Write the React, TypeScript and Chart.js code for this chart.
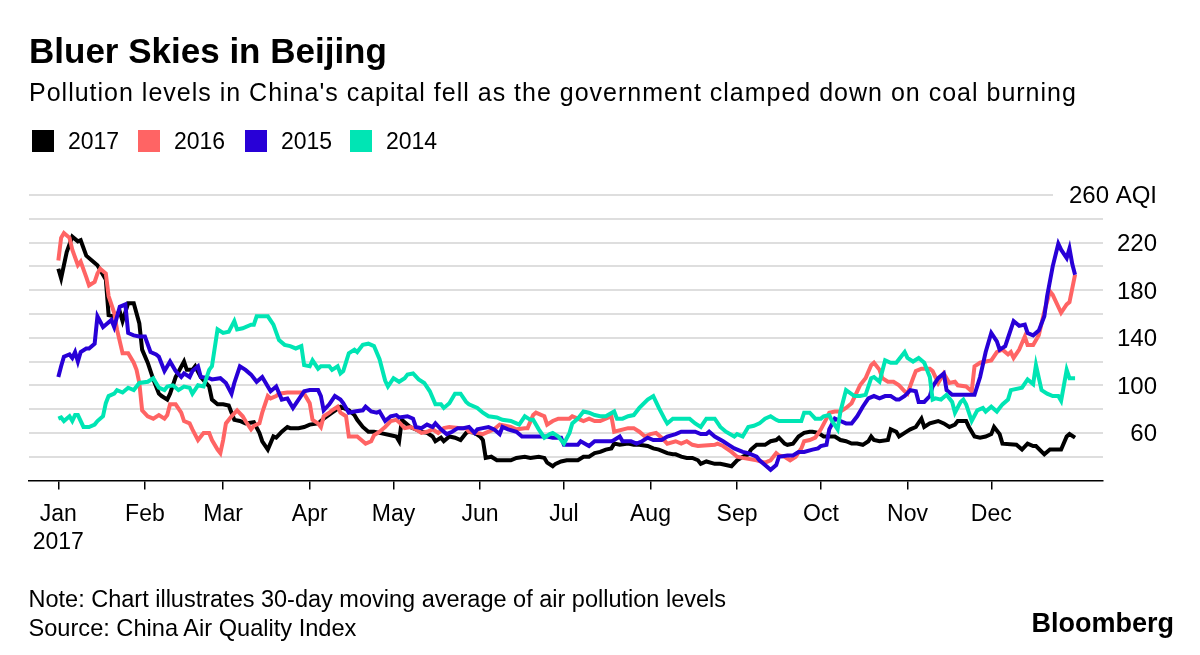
import React, { useEffect, useRef } from "react";
import { Chart, registerables } from "chart.js";

Chart.register(...registerables);

// ---------- data (day of year, AQI 30-day moving average) ----------
const s2017: [number, number][] = [
  [0,198],[1,190],[3,212],[5,225],[7,221],[8,222],[10,209],[12,205],[14,201],[15,197],[17,189],[18,159],[20,158],[22,162],[23,154],[25,169],[27,169],[29,152],[30,130],[32,119],[34,105],[36,93],[37,91],[39,88],[40,93],[42,107],[45,120],[46,113],[48,113],[49,116],[51,107],[54,99],[55,88],[57,84],[59,84],[61,83],[63,71],[65,70],[67,68],[70,69],[72,60],[73,53],[75,46],[77,57],[78,56],[80,61],[82,65],[83,64],[86,64],[88,65],[90,67],[93,68],[95,72],[98,77],[101,82],[104,79],[106,75],[107,71],[109,65],[111,61],[113,61],[115,60],[119,58],[121,57],[122,53],[123,71],[124,69],[126,65],[128,63],[130,61],[132,60],[134,57],[135,53],[137,56],[138,53],[140,57],[142,56],[144,54],[146,60],[147,61],[149,60],[151,57],[152,54],[153,39],[155,40],[157,37],[162,37],[164,39],[167,40],[169,39],[172,40],[174,39],[175,35],[177,32],[178,34],[180,36],[182,37],[186,37],[188,40],[190,40],[192,43],[194,44],[196,46],[198,47],[199,51],[201,50],[204,51],[206,50],[208,50],[211,49],[213,47],[215,46],[218,43],[220,42],[221,42],[223,40],[225,39],[227,39],[229,37],[230,34],[232,36],[235,34],[237,34],[239,33],[241,32],[243,37],[245,40],[247,42],[248,46],[250,50],[253,50],[255,53],[257,54],[258,56],[260,51],[261,50],[263,51],[265,57],[267,60],[269,61],[270,61],[272,60],[274,57],[278,57],[280,54],[282,53],[284,51],[286,51],[288,50],[290,53],[291,57],[292,54],[294,53],[297,54],[298,63],[300,61],[301,57],[303,60],[305,63],[307,65],[309,72],[310,65],[312,68],[315,70],[317,68],[319,65],[321,67],[322,70],[325,70],[326,65],[328,57],[330,56],[332,57],[334,59],[335,65],[337,59],[338,51],[343,50],[345,46],[347,51],[349,49],[350,49],[353,42],[355,46],[359,46],[361,57],[362,59],[364,56]
];

const s2016: [number, number][] = [
  [0,205],[1,224],[2,228],[4,224],[5,214],[7,201],[8,204],[10,191],[11,184],[13,187],[14,194],[15,198],[17,194],[18,175],[20,161],[21,147],[23,127],[25,127],[27,119],[28,113],[29,102],[30,79],[32,74],[34,72],[36,75],[38,72],[39,75],[40,84],[42,84],[44,77],[45,70],[47,68],[48,63],[50,54],[52,60],[54,60],[55,54],[57,46],[58,43],[59,54],[60,68],[62,74],[64,79],[66,74],[67,70],[69,63],[70,66],[72,68],[73,77],[75,91],[76,89],[78,91],[79,93],[82,94],[87,94],[88,93],[90,85],[91,71],[93,68],[94,65],[95,74],[97,77],[98,79],[100,82],[101,77],[103,74],[104,57],[107,57],[109,53],[110,51],[112,53],[113,58],[115,61],[117,65],[119,70],[121,71],[122,69],[124,64],[126,65],[128,63],[130,60],[132,61],[134,63],[136,60],[138,64],[140,65],[144,64],[146,64],[147,61],[150,60],[152,59],[153,60],[156,63],[158,67],[160,66],[162,65],[164,63],[167,64],[168,64],[170,75],[171,77],[173,75],[174,74],[175,67],[177,70],[179,72],[183,72],[184,74],[186,72],[188,70],[190,72],[192,70],[194,70],[196,72],[198,74],[199,61],[204,64],[206,64],[208,61],[210,57],[212,59],[214,60],[216,56],[218,51],[221,53],[223,51],[225,53],[227,50],[229,49],[235,50],[236,51],[238,49],[241,44],[243,40],[245,39],[250,37],[253,35],[255,37],[257,43],[258,41],[260,40],[262,37],[264,40],[266,47],[267,53],[269,54],[271,56],[273,63],[275,72],[276,77],[278,78],[280,78],[282,81],[284,85],[286,95],[287,100],[289,106],[291,117],[292,119],[294,113],[295,106],[297,103],[299,103],[301,100],[303,95],[304,93],[306,106],[307,112],[309,114],[312,114],[313,112],[315,102],[317,110],[319,102],[321,103],[322,100],[325,99],[327,95],[328,116],[330,119],[332,120],[334,121],[336,128],[338,130],[340,126],[341,128],[342,123],[344,130],[346,141],[347,134],[349,134],[351,142],[353,162],[355,179],[356,176],[359,161],[361,168],[362,170],[364,193]
];

const s2015: [number, number][] = [
  [0,107],[1,116],[2,124],[4,126],[5,123],[6,128],[7,120],[8,128],[10,131],[11,131],[13,135],[14,158],[16,149],[17,151],[19,155],[20,149],[22,166],[24,168],[25,144],[27,142],[29,141],[31,141],[33,128],[35,126],[36,124],[38,112],[40,120],[42,112],[44,107],[45,110],[47,107],[48,112],[50,116],[51,107],[54,106],[55,105],[58,106],[60,102],[62,93],[63,102],[65,116],[67,113],[69,109],[71,103],[73,107],[75,99],[76,95],[78,99],[80,88],[82,89],[84,81],[86,88],[88,95],[90,96],[93,96],[94,91],[95,79],[97,84],[99,91],[101,88],[102,85],[104,77],[106,78],[109,79],[110,82],[112,78],[114,77],[115,78],[117,70],[119,74],[121,75],[122,73],[125,74],[127,72],[128,65],[130,64],[132,67],[134,65],[135,68],[137,63],[139,59],[141,61],[143,64],[145,64],[147,65],[149,60],[150,63],[152,64],[154,65],[156,63],[158,59],[159,65],[161,63],[164,61],[166,57],[175,57],[177,56],[180,56],[181,50],[186,50],[187,53],[190,49],[192,53],[198,53],[199,54],[201,57],[202,53],[205,53],[207,51],[209,53],[211,56],[213,54],[216,54],[218,57],[221,59],[223,61],[228,61],[230,59],[232,59],[233,61],[235,57],[238,53],[240,50],[242,47],[245,44],[247,43],[250,40],[251,37],[253,33],[255,29],[257,33],[258,40],[261,41],[263,41],[265,44],[267,44],[270,46],[272,47],[273,49],[275,50],[276,63],[278,72],[280,70],[282,68],[284,68],[286,74],[288,82],[290,89],[292,91],[294,89],[296,91],[298,91],[300,88],[301,88],[303,91],[305,96],[307,95],[308,86],[310,86],[312,91],[313,99],[315,106],[317,110],[318,96],[320,92],[328,92],[330,107],[332,128],[334,144],[336,137],[337,130],[339,133],[340,140],[342,154],[344,150],[346,151],[347,144],[349,142],[351,146],[353,158],[354,175],[356,200],[358,219],[359,214],[361,207],[362,215],[363,202],[364,193]
];

const s2014: [number, number][] = [
  [0,72],[1,73],[2,70],[4,74],[5,70],[6,75],[7,75],[9,65],[11,65],[13,67],[14,70],[16,74],[17,85],[18,91],[20,93],[21,96],[23,94],[25,98],[27,96],[29,102],[32,103],[34,106],[36,98],[38,96],[39,99],[41,100],[43,96],[45,99],[47,98],[48,93],[50,100],[52,99],[54,113],[55,116],[57,147],[59,144],[61,145],[63,154],[64,147],[66,148],[69,151],[70,151],[71,158],[73,158],[75,158],[77,151],[79,138],[81,134],[83,133],[85,131],[87,133],[88,117],[90,116],[91,121],[93,114],[94,116],[97,116],[98,113],[100,116],[101,110],[102,112],[104,127],[106,130],[107,128],[109,134],[111,135],[113,133],[115,122],[117,104],[118,99],[120,106],[122,103],[124,106],[125,109],[127,110],[129,105],[131,102],[133,95],[135,84],[137,84],[138,81],[140,85],[142,93],[144,93],[146,86],[147,84],[150,81],[152,77],[154,74],[157,73],[159,71],[162,70],[164,68],[165,67],[167,74],[169,71],[170,71],[172,63],[174,56],[176,59],[177,60],[179,57],[181,51],[183,60],[184,68],[186,72],[188,78],[190,77],[192,75],[194,74],[196,74],[199,78],[200,72],[202,72],[204,74],[206,75],[208,81],[211,88],[213,91],[215,81],[217,72],[218,68],[220,72],[226,72],[228,68],[230,65],[232,72],[235,72],[237,65],[239,61],[242,57],[243,59],[245,57],[247,65],[249,66],[251,68],[253,72],[255,74],[257,71],[258,70],[266,70],[267,77],[269,77],[271,72],[273,72],[274,74],[276,75],[277,70],[279,63],[280,78],[282,96],[285,91],[287,91],[289,92],[291,106],[292,107],[294,103],[296,121],[298,119],[300,119],[303,128],[304,123],[306,120],[308,123],[310,119],[312,107],[313,88],[314,89],[316,88],[318,92],[320,86],[321,77],[323,86],[324,88],[325,84],[327,70],[329,79],[331,81],[332,78],[334,82],[336,78],[338,84],[340,88],[341,96],[345,98],[347,105],[349,101],[350,117],[352,96],[354,93],[356,91],[358,91],[359,87],[361,113],[362,106],[364,106]
];

const seriesNames = ["2017", "2016", "2015", "2014"];
const seriesColors = ["#000000", "#ff6464", "#2800d7", "#00e5b4"];

const monthStarts = [0, 31, 59, 90, 120, 151, 181, 212, 243, 273, 304, 334];
const monthLabels = ["Jan", "Feb", "Mar", "Apr", "May", "Jun", "Jul", "Aug", "Sep", "Oct", "Nov", "Dec"];
const yearLabel = "2017";

const yTickValues = [60, 100, 140, 180, 220, 260];
const yTickLabels = ["60", "100", "140", "180", "220", "260 AQI"];

const titleText = "Bluer Skies in Beijing";
const subtitleText = "Pollution levels in China's capital fell as the government clamped down on coal burning";
const noteText = "Note: Chart illustrates 30-day moving average of air pollution levels";
const sourceText = "Source: China Air Quality Index";
const brandText = "Bloomberg";

const FONT = '"Liberation Sans", Arial, Helvetica, sans-serif';
const GRID = "#dedede";

const decorPlugin = {
  id: "decor",
  beforeDatasetsDraw(chart: any) {
    const { ctx, chartArea, scales } = chart;
    const py = scales.y.getPixelForValue(260);
    ctx.save();
    ctx.strokeStyle = GRID;
    ctx.lineWidth = 2;
    ctx.beginPath();
    ctx.moveTo(chartArea.left, py);
    ctx.lineTo(chartArea.right - 50, py);
    ctx.stroke();
    ctx.restore();
  },
  afterDraw(chart: any) {
    const { ctx, chartArea, scales } = chart;
    ctx.save();
    ctx.fillStyle = "#000";
    ctx.font = `24px ${FONT}`;
    ctx.textAlign = "right";
    ctx.textBaseline = "alphabetic";
    yTickValues.forEach((v, i) => {
      const py = scales.y.getPixelForValue(v);
      ctx.fillText(yTickLabels[i], chartArea.right + 54, py + 8.4);
    });
    ctx.restore();
  },
};

function ChartCanvas() {
  const ref = useRef<HTMLCanvasElement | null>(null);
  useEffect(() => {
    if (!ref.current) return;
    const all = [s2017, s2016, s2015, s2014];
    const chart = new Chart(ref.current, {
      type: "line",
      data: {
        datasets: all.map((s, i) => ({
          label: seriesNames[i],
          data: s.map(([x, y]) => ({ x, y })),
          borderColor: seriesColors[i],
          backgroundColor: seriesColors[i],
          borderWidth: 4,
          pointRadius: 0,
          tension: 0,
          fill: false,
          order: 3 - i,
        })),
      },
      options: {
        responsive: false,
        animation: false,
        events: [],
        layout: { padding: { left: 29, right: 40, top: 195, bottom: 0 } },
        plugins: { legend: { display: false }, tooltip: { enabled: false }, title: { display: false } },
        scales: {
          x: {
            type: "linear",
            min: -10.5,
            max: 374,
            position: "bottom",
            afterBuildTicks: (s: any) => {
              s.ticks = monthStarts.map((v) => ({ value: v }));
            },
            afterFit: (s: any) => {
              s.height = 174.5;
            },
            ticks: {
              autoSkip: false,
              maxRotation: 0,
              minRotation: 0,
              color: "#000",
              padding: 11,
              font: { family: FONT, size: 23, lineHeight: 1.23 },
              callback: (_v: any, i: number) => (i === 0 ? [monthLabels[0], yearLabel] : monthLabels[i]),
            },
            grid: {
              drawOnChartArea: false,
              drawTicks: true,
              tickLength: 9,
              color: "#000",
              lineWidth: 1.5,
            },
            border: { display: true, color: "#000", width: 1.5 },
          },
          y: {
            type: "linear",
            position: "right",
            min: 20,
            max: 260,
            afterFit: (s: any) => {
              s.width = 57;
            },
            ticks: { display: false, stepSize: 20 },
            grid: {
              drawTicks: false,
              lineWidth: 2,
              color: (c: any) =>
                c.tick && (c.tick.value === 260 || c.tick.value === 20) ? "rgba(0,0,0,0)" : GRID,
            },
            border: { display: false },
          },
        },
      },
      plugins: [decorPlugin],
    } as any);
    return () => chart.destroy();
  }, []);
  return <canvas ref={ref} width={1200} height={655} style={{ position: "absolute", left: 0, top: 0 }} />;
}

export default function App() {
  const abs = (extra: React.CSSProperties): React.CSSProperties => ({
    position: "absolute",
    whiteSpace: "nowrap",
    fontFamily: FONT,
    color: "#000",
    margin: 0,
    ...extra,
  });
  const legendX = [32, 138, 245, 350];
  return (
    <div style={{ position: "absolute", left: 0, top: 0, width: 1200, height: 655, background: "#fff", overflow: "hidden" }}>
      <ChartCanvas />
      <div style={abs({ left: 29, top: 33, fontSize: 35, lineHeight: "35px", fontWeight: 700 })}>{titleText}</div>
      <div style={abs({ left: 29, top: 80, fontSize: 25, lineHeight: "25px", letterSpacing: "1px" })}>{subtitleText}</div>
      {seriesNames.map((n, i) => (
        <React.Fragment key={n}>
          <div style={abs({ left: legendX[i], top: 130, width: 22, height: 22, background: seriesColors[i] })} />
          <div style={abs({ left: legendX[i] + 36, top: 130, fontSize: 23, lineHeight: "23px" })}>{n}</div>
        </React.Fragment>
      ))}
      <div style={abs({ left: 28.5, top: 588, fontSize: 23.5, lineHeight: "23.5px" })}>{noteText}</div>
      <div style={abs({ left: 28.5, top: 616.5, fontSize: 23.6, lineHeight: "23.6px" })}>{sourceText}</div>
      <div style={abs({ right: 26, top: 610, fontSize: 27, lineHeight: "27px", fontWeight: 700 })}>{brandText}</div>
    </div>
  );
}
